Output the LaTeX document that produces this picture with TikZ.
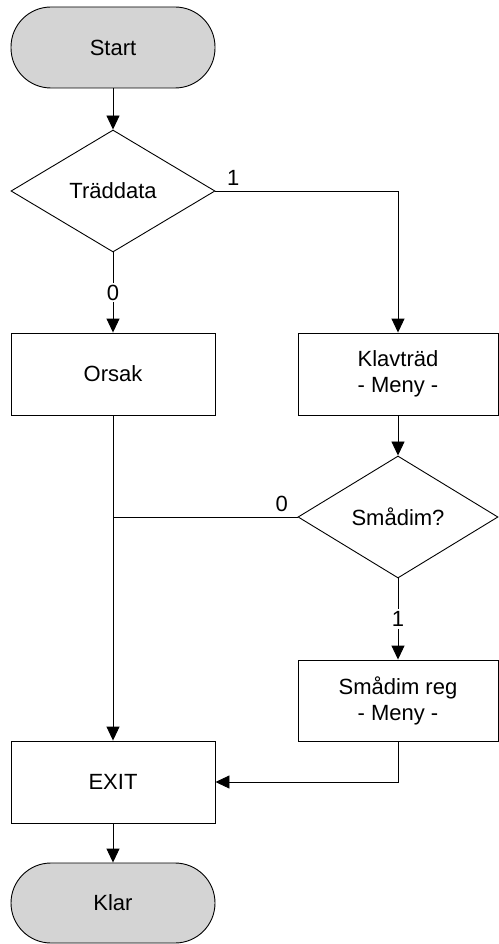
\documentclass[tikz,border=0pt]{standalone}
\usepackage{fontspec}
\setmainfont{Liberation Sans}
\usetikzlibrary{shapes.geometric,arrows.meta,positioning}
\tikzset
{
    termnode/.style = {rectangle, rounded corners=40pt, draw=black, fill=black!17, align=center, minimum width=204pt, minimum height=81pt},
    procnode/.style = {rectangle, draw=black, align=center, minimum width=204pt, minimum height=82pt},
    decnode/.style  = {diamond, draw=black, align=center, inner sep=0pt, minimum width=204pt, minimum height=122pt},
    flowline/.style = {draw=black, line width=0.9pt},
    flowarrow/.style = {flowline, -{Triangle[length=14pt,width=13pt]}},
    branch/.style = {fill=white, inner sep=2pt}
}

\begin{document}
\begin{tikzpicture}[x=1pt, y=-1pt, font=\fontsize{22}{26}\selectfont, line width=0.9pt]
	\useasboundingbox (0,0) rectangle (498,944);
	% left column
	\node[termnode] (start) at (113,47.5) {Start};
	\node[decnode] (tradd) at (113,191) {Träddata};
	\node[procnode] (orsak) at (113,374) {Orsak};
	\node[procnode] (exit) at (113,782) {EXIT};
	\node[termnode, minimum height=80pt] (klar) at (113,903) {Klar};
	% right column
	\node[procnode, minimum width=200pt] (klav) at (398,374) {Klavträd\\- Meny -};
	\node[decnode, minimum width=200pt] (smadim) at (398,517) {Smådim?};
	\node[procnode, minimum width=200pt, minimum height=81pt] (smreg) at (398,700.5) {Smådim reg\\- Meny -};
	% connectors
	\draw[flowarrow] (start) -- (tradd);
	\draw[flowarrow] (tradd.east) -| (klav.north);
	\node[above right=2pt and 8pt of tradd.east] (lab1) {1};
	\draw[flowarrow] (tradd) -- node[branch] (lab0) {0} (orsak);
	\draw[flowarrow] (orsak) -- (exit);
	\draw[flowarrow] (klav) -- (smadim);
	\draw[flowline] (smadim.west) -- (smadim.west -| orsak.south);
	\node[above left=2pt and 6pt of smadim.west] (lab2) {0};
	\draw[flowarrow] (smadim) -- node[branch] (lab3) {1} (smreg);
	\draw[flowarrow] (smreg.south) |- (exit.east);
	\draw[flowarrow] (exit) -- (klar);
\end{tikzpicture}
\end{document}
